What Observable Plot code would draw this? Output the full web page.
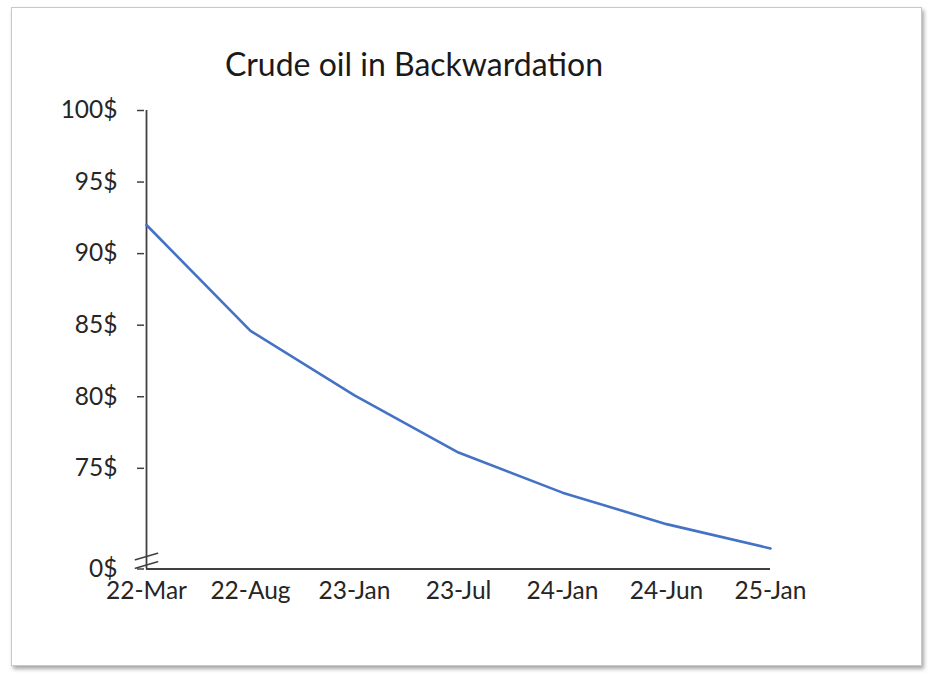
<!DOCTYPE html>
<html>
<head>
<meta charset="utf-8">
<script src="https://cdn.jsdelivr.net/npm/d3@7"></script>
<script src="https://cdn.jsdelivr.net/npm/@observablehq/plot@0.6"></script>
<style>
  html, body { margin: 0; padding: 0; background: #ffffff; }
  #stage { position: relative; width: 934px; height: 681px; overflow: hidden; }
  #frame { position: absolute; left: 11px; top: 7px; width: 909px; height: 657px;
           border: 1px solid #c8c8c8; box-shadow: 2px 3px 4px rgba(0,0,0,0.35); background: #fff; }
  #title { position: absolute; left: 0; top: 48px; width: 828px; text-align: center;
           font-family: Lato, "Open Sans", sans-serif; font-size: 32px; line-height: 32px; color: #1a1a1a; }
  #chart { position: absolute; left: 0; top: 0; }
</style>
</head>
<body>
<div id="stage">
  <div id="frame"></div>
  <div id="title"></div>
  <div id="chart"></div>
</div>
<script>
const titleText = "Crude oil in Backwardation";
const months = ["22-Mar", "22-Aug", "23-Jan", "23-Jul", "24-Jan", "24-Jun", "25-Jan"];
const prices = [92.0, 84.6, 80.1, 76.1, 73.3, 71.1, 69.4];
const yTickValues = [0, 75, 80, 85, 90, 95, 100];
const yTickLabels = ["0$", "75$", "80$", "85$", "90$", "95$", "100$"];
const breakAt = 0;

document.getElementById("title").textContent = titleText;

const data = months.map((m, i) => ({month: m, price: prices[i]}));
const labelOf = new Map(yTickValues.map((v, i) => [v, yTickLabels[i]]));
const axisColor = "#404040";
const font = "Lato, 'Open Sans', sans-serif";

const breakShape = {
  draw(context, l) { context.moveTo(0, 0); context.lineTo(0, -l); }
};

const chart = Plot.plot({
  width: 934,
  height: 681,
  marginLeft: 144,
  marginRight: 163,
  marginTop: 110,
  marginBottom: 113,
  style: {fontFamily: font, fontSize: "24.5px", color: "#262626", background: "transparent", overflow: "visible"},
  x: {type: "point", domain: months, range: [144, 771], padding: 0},
  y: {type: "linear", domain: [0, 68, 100], range: [568.5, 568, 110]},
  marks: [
    Plot.axisY({ticks: yTickValues, tickFormat: d => labelOf.get(d), tickSize: 7, tickPadding: 20,
                stroke: axisColor, strokeWidth: 1.5, fill: "#262626", label: null}),
    Plot.axisX({tickSize: 0, tickPadding: 13, fill: "#262626", label: null}),
    Plot.ruleX([{m: months[0]}], {x: "m", y1: 0, y2: 100, stroke: axisColor, strokeWidth: 1.8}),
    Plot.ruleY([{v: 0, a: months[0], b: months[months.length - 1]}], {y: "v", x1: "a", x2: "b", stroke: axisColor, strokeWidth: 1.8}),
    Plot.vector([{m: months[0], v: breakAt}], {x: "m", y: "v", dy: -12.5, length: 23, rotate: 74,
                anchor: "middle", shape: breakShape, stroke: axisColor, strokeWidth: 1.6}),
    Plot.vector([{m: months[0], v: breakAt}], {x: "m", y: "v", dy: -4, length: 23, rotate: 74,
                anchor: "middle", shape: breakShape, stroke: axisColor, strokeWidth: 1.6}),
    Plot.line(data, {x: "month", y: "price", stroke: "#4472C4", strokeWidth: 2.6, curve: "linear"})
  ]
});
document.getElementById("chart").appendChild(chart);
</script>
</body>
</html>
